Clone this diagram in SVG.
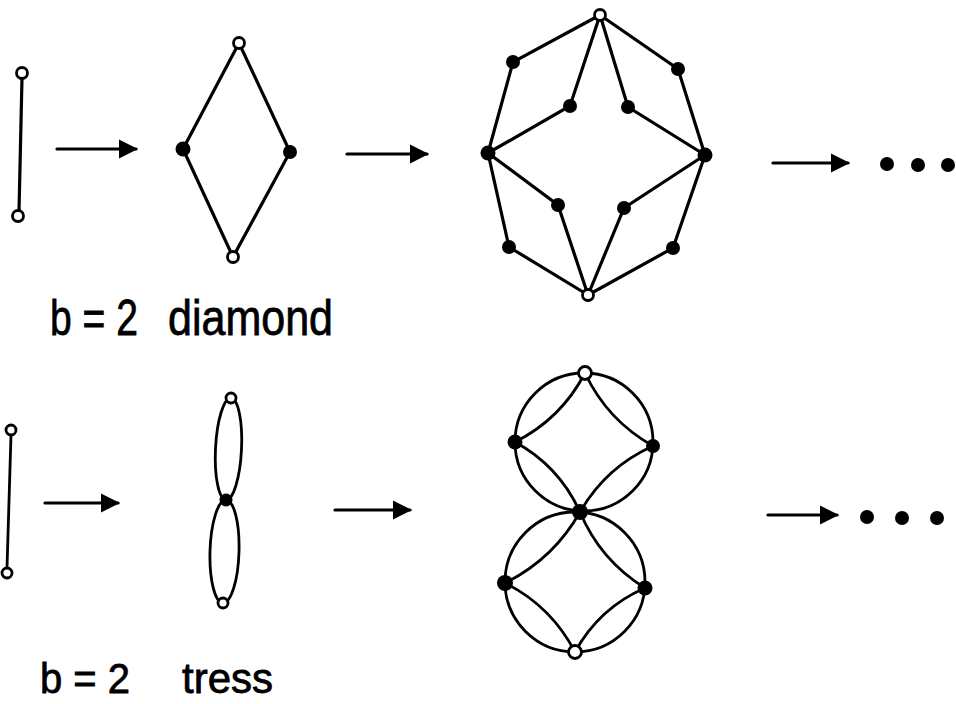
<svg xmlns="http://www.w3.org/2000/svg" width="956" height="704" viewBox="0 0 956 704">
<style>
.e{stroke:#000;stroke-width:3.2;fill:none;stroke-linecap:round}
.e2{stroke:#000;stroke-width:2.8;fill:none;stroke-linecap:round}
.o{fill:#fff;stroke:#000;stroke-width:2.8}
.f{fill:#000}
.lbl{font-family:"Liberation Sans",Arial,sans-serif;fill:#000;stroke:#000;stroke-width:0.8}
</style>
<defs>
<marker id="ah" viewBox="0 0 10 10" refX="9" refY="5" markerWidth="6" markerHeight="6" markerUnits="strokeWidth" orient="auto">
<path d="M0,0 L10,5 L0,10 Z" fill="#000"/>
</marker>
</defs>
<rect width="956" height="704" fill="#fff"/>

<g id="connectors">
<!-- top row -->
<line class="e" x1="22" y1="78" x2="19" y2="211"/>
<line class="e" x1="57" y1="149" x2="136" y2="149" marker-end="url(#ah)"/>
<path class="e" d="M239,43 L183,149 L233,257 L290,152 Z"/>
<line class="e" x1="347" y1="154" x2="427" y2="154" marker-end="url(#ah)"/>
<path class="e" d="M600,15 L513,62 L488,153 M600,15 L570,106 L488,153 M600,15 L628,107 L705,155 M600,15 L678,69 L705,155 M488,153 L558,205 L588,295 M488,153 L509,247 L588,295 M705,155 L624,208 L588,295 M705,155 L673,248 L588,295"/>
<line class="e" x1="773" y1="163" x2="848" y2="163" marker-end="url(#ah)"/>
<!-- bottom row -->
<line class="e2" x1="11" y1="435" x2="7" y2="568"/>
<line class="e" x1="45" y1="503" x2="118" y2="503" marker-end="url(#ah)"/>
<ellipse class="e2" cx="228.5" cy="449" rx="13" ry="51" transform="rotate(2.8 228.5 449)"/>
<ellipse class="e2" cx="224.5" cy="551.5" rx="14.5" ry="51.5" transform="rotate(1.7 224.5 551.5)"/>
<line class="e" x1="335" y1="510" x2="410" y2="510" marker-end="url(#ah)"/>
<circle class="e2" cx="584" cy="442" r="69"/>
<circle class="e2" cx="575" cy="582" r="70"/>
<path class="e2" d="M585,373 Q561,419 515,442 M585,373 Q607,420 653,446 M515,442 Q559,466 580,512 M653,446 Q606,467 580,512 M580,512 Q553.5,559 505,583 M580,512 Q600,560 645,588 M505,583 Q551,606 575,652 M645,588 Q599,608 575,652"/>
<line class="e" x1="768" y1="515" x2="837" y2="515" marker-end="url(#ah)"/>
</g>

<g id="n-seg1"><circle class="o" cx="22" cy="73" r="5.5"/><circle class="o" cx="18" cy="216" r="5.5"/></g>
<g id="n-diamond">
<circle class="o" cx="239" cy="43" r="5.5"/>
<circle class="f" cx="183" cy="149" r="7.5"/>
<circle class="f" cx="290" cy="152" r="7"/>
<circle class="o" cx="233" cy="257" r="5.5"/>
</g>
<g id="n-oct">
<circle class="o" cx="600" cy="15" r="5.5"/>
<circle class="o" cx="588" cy="295" r="5.5"/>
<circle class="f" cx="488" cy="153" r="7.5"/>
<circle class="f" cx="705" cy="155" r="7.5"/>
<circle class="f" cx="513" cy="62" r="7"/>
<circle class="f" cx="678" cy="69" r="7"/>
<circle class="f" cx="570" cy="106" r="7"/>
<circle class="f" cx="628" cy="107" r="7"/>
<circle class="f" cx="558" cy="205" r="7"/>
<circle class="f" cx="624" cy="208" r="7"/>
<circle class="f" cx="509" cy="247" r="7"/>
<circle class="f" cx="673" cy="248" r="7"/>
</g>
<g id="dots1"><circle class="f" cx="887" cy="164" r="7"/><circle class="f" cx="918" cy="165" r="7"/><circle class="f" cx="948" cy="165" r="7"/></g>

<g id="n-seg2"><circle class="o" cx="11" cy="430" r="5"/><circle class="o" cx="7" cy="573" r="5"/></g>
<g id="n-tress">
<circle class="o" cx="231" cy="398" r="5"/>
<circle class="f" cx="226" cy="500" r="6.5"/>
<circle class="o" cx="223" cy="603" r="5"/>
</g>
<g id="n-eight">
<circle class="o" cx="585" cy="373" r="6.5"/>
<circle class="f" cx="515" cy="442" r="7.5"/>
<circle class="f" cx="653" cy="446" r="7"/>
<circle class="f" cx="580" cy="512" r="8"/>
<circle class="f" cx="505" cy="583" r="8"/>
<circle class="f" cx="645" cy="588" r="7.5"/>
<circle class="o" cx="575" cy="652" r="6.5"/>
</g>
<g id="dots2"><circle class="f" cx="867" cy="517" r="7"/><circle class="f" cx="902" cy="518" r="7"/><circle class="f" cx="937" cy="518" r="7"/></g>

<g id="labels">
<text class="lbl" x="50" y="335" font-size="50" textLength="88" lengthAdjust="spacingAndGlyphs">b = 2</text>
<text class="lbl" x="168" y="335" font-size="50" textLength="165" lengthAdjust="spacingAndGlyphs">diamond</text>
<text class="lbl" x="40" y="693" font-size="43" textLength="90" lengthAdjust="spacingAndGlyphs">b = 2</text>
<text class="lbl" x="182" y="693" font-size="43" textLength="91" lengthAdjust="spacingAndGlyphs">tress</text>
</g>
</svg>
